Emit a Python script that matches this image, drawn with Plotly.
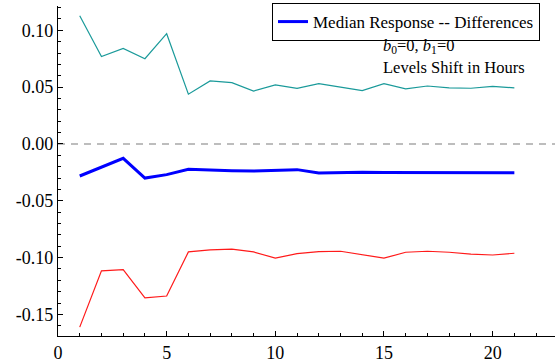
import plotly.graph_objects as go

horizon = list(range(1, 22))
median = [-0.0282, -0.0203, -0.0126, -0.0300, -0.0270, -0.0223, -0.0232, -0.0235, -0.0238, -0.0232,
          -0.0226, -0.0256, -0.0250, -0.0250, -0.0252, -0.0252, -0.0254, -0.0254, -0.0252, -0.0253, -0.0254]
upper = [0.1129, 0.0770, 0.0841, 0.0750, 0.0970, 0.0438, 0.0555, 0.0540, 0.0465, 0.0520,
         0.0490, 0.0530, 0.0500, 0.0470, 0.0530, 0.0485, 0.0510, 0.0494, 0.0490, 0.0506, 0.0494]
lower = [-0.1612, -0.1117, -0.1106, -0.1355, -0.1338, -0.0950, -0.0932, -0.0926, -0.0950, -0.1005,
         -0.0965, -0.0947, -0.0944, -0.0974, -0.1005, -0.0953, -0.0944, -0.0953, -0.0970, -0.0977, -0.0962]

y_tickvals = [-0.15, -0.10, -0.05, 0.00, 0.05, 0.10]
y_ticktext = ["-0.15", "-0.10", "-0.05", "0.00", "0.05", "0.10"]
x_tickvals = [0, 5, 10, 15, 20]

FONT = "Liberation Serif, Times New Roman, serif"

fig = go.Figure()
fig.add_trace(go.Scatter(x=horizon, y=upper, mode="lines", line=dict(color="#1a9a9a", width=1.2),
                         showlegend=False, hoverinfo="skip"))
fig.add_trace(go.Scatter(x=horizon, y=lower, mode="lines", line=dict(color="#ff1a1a", width=1.2),
                         showlegend=False, hoverinfo="skip"))
fig.add_trace(go.Scatter(x=horizon, y=median, mode="lines", line=dict(color="#0000ff", width=3),
                         name="Median Response -- Differences"))

fig.add_hline(y=0, line=dict(color="#a8a8a8", width=1.5, dash="7px,6px"), layer="below")

fig.add_annotation(xref="paper", yref="paper", x=0.652, y=0.912, xanchor="left", yanchor="top",
                   align="left", showarrow=False, borderpad=0,
                   text="<i>b</i><sub>0</sub>=0, <i>b</i><sub>1</sub>=0",
                   font=dict(family=FONT, size=16.5, color="black"))
fig.add_annotation(xref="paper", yref="paper", x=0.652, y=0.846, xanchor="left", yanchor="top",
                   align="left", showarrow=False, borderpad=0,
                   text="Levels Shift in Hours",
                   font=dict(family=FONT, size=16.5, color="black"))

fig.update_layout(
    width=555, height=362,
    margin=dict(l=58, r=0, t=6, b=26),
    paper_bgcolor="white", plot_bgcolor="white",
    font=dict(family=FONT, size=18, color="black"),
    legend=dict(x=0.4306, y=1.009, xanchor="left", yanchor="top",
                bordercolor="black", borderwidth=1, bgcolor="white",
                font=dict(family=FONT, size=17, color="black")),
)
fig.update_xaxes(range=[0, 22.87], showgrid=False, zeroline=False, showline=True, linecolor="black",
                 linewidth=1.2, ticks="inside", ticklen=5, tickcolor="black", tickvals=x_tickvals,
                 minor=dict(ticks="inside", ticklen=3, dtick=1, tick0=0, tickcolor="black", showgrid=False))
fig.update_yaxes(range=[-0.169, 0.1214], showgrid=False, zeroline=False, showline=True, linecolor="black",
                 linewidth=1.2, ticks="inside", ticklen=5, tickcolor="black",
                 tickmode="array", tickvals=y_tickvals, ticktext=y_ticktext,
                 minor=dict(ticks="inside", ticklen=3, dtick=0.01, tick0=0, tickcolor="black", showgrid=False))

fig.write_html("out.html")
